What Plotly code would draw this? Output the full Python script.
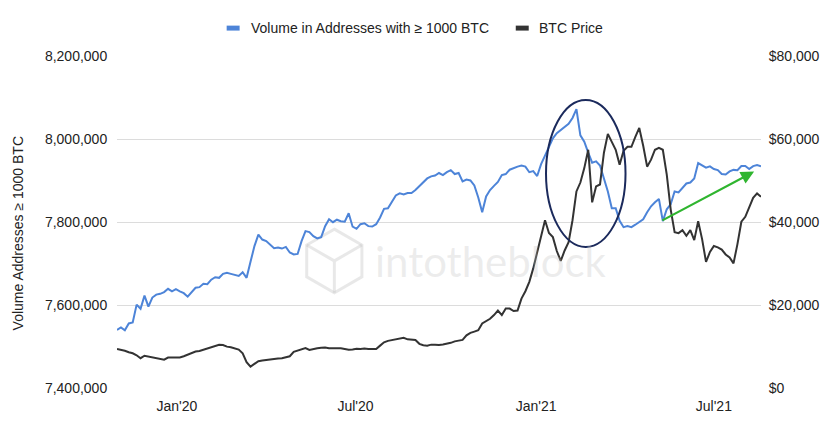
import pandas as pd
import plotly.graph_objects as go

# ---- data (one sample every 4 days) ----
start_date = "2019-11-01"
n_points = 165
dates = pd.date_range(start_date, periods=n_points, freq="4D")

volume_1000btc = [
    7540000, 7546000, 7539000, 7555500, 7558000, 7601000, 7591000, 7622500, 7596000, 7618000,
    7625000, 7627000, 7631000, 7639000, 7633000, 7638000, 7633000, 7628500, 7620000, 7632000,
    7641600, 7643000, 7651000, 7650000, 7661000, 7667000, 7665500, 7675000, 7677500, 7675000,
    7672700, 7670000, 7679000, 7665500, 7704000, 7742000, 7769600, 7757700, 7754000, 7745700,
    7737000, 7738500, 7736000, 7740000, 7726500, 7722000, 7723000, 7754000, 7778000, 7775600,
    7766000, 7760500, 7763600, 7790000, 7806700, 7799500, 7805500, 7802000, 7800700, 7821000,
    7788700, 7783500, 7794700, 7797000, 7790000, 7789000, 7794700, 7810800, 7831800, 7833000,
    7847400, 7864000, 7869000, 7866500, 7870000, 7870000, 7877000, 7887000, 7896000, 7905000,
    7910000, 7912000, 7918000, 7913000, 7920000, 7925000, 7915500, 7918000, 7897600, 7902400,
    7900000, 7888000, 7859000, 7823400, 7861700, 7877000, 7887000, 7896400, 7913000, 7915500,
    7926000, 7930000, 7933500, 7936000, 7933500, 7920000, 7922700, 7910800, 7939500, 7959800,
    7979000, 8001700, 8014000, 8022000, 8029000, 8036400, 8050700, 8072000, 8008800, 7993300,
    7967000, 7943000, 7946000, 7936000, 7904800, 7873700, 7833000, 7833000, 7803000, 7787600,
    7790000, 7787600, 7793500, 7800700, 7806700, 7823400, 7837800, 7847400, 7855700, 7802000,
    7830600, 7842600, 7873700, 7871300, 7881300, 7892800, 7895200, 7905000, 7941900, 7937000,
    7931000, 7934000, 7927500, 7925000, 7915500, 7914300, 7922000, 7925600, 7925000, 7934700,
    7935000, 7927500, 7934700, 7937000, 7934200,
]

btc_price = [
    9400, 9210, 8970, 8610, 8370, 7890, 7180, 7770, 7580, 7420,
    7300, 7130, 6820, 7340, 7300, 7420, 7340, 7650, 8090, 8490,
    8780, 8920, 9210, 9570, 9810, 10170, 10410, 10360, 9970, 9810,
    9620, 9260, 8370, 6220, 5140, 5860, 6460, 6630, 6770, 6940,
    7060, 7100, 7180, 7420, 7650, 8730, 9090, 9450, 9620, 9160,
    9400, 9570, 9690, 9740, 9570, 9570, 9500, 9570, 9380, 9210,
    9280, 9450, 9400, 9500, 9400, 9450, 9400, 10210, 11000, 11360,
    11530, 11670, 11840, 12080, 11720, 11550, 11550, 10640, 10290, 10210,
    10450, 10450, 10360, 10480, 10640, 10880, 11240, 11430, 11600, 12680,
    13280, 13590, 13920, 15550, 16030, 16670, 17580, 18660, 17580, 19140,
    19140, 18540, 18680, 21530, 23320, 25590, 28820, 32650, 37080, 40420,
    37360, 36360, 33010, 30620, 33130, 35160, 40420, 47360, 49510, 52980,
    57410, 44730, 48560, 49040, 56690, 61240, 59320, 57410, 53820, 57170,
    58130, 58130, 60520, 62670, 58360, 53340, 55020, 57410, 57890, 57410,
    51430, 43060, 37550, 37320, 38030, 36670, 38030, 35640, 40190, 35880,
    30380, 32770, 34210, 33890, 33370, 32170, 31450, 30020, 34680, 40070,
    41260, 43530, 45810, 46880, 46100,
]

series_names = ["Volume in Addresses with \u2265 1000 BTC", "BTC Price"]
x_tick_dates = ["2020-01-01", "2020-07-01", "2021-01-01", "2021-07-01"]
x_tick_labels = ["Jan'20", "Jul'20", "Jan'21", "Jul'21"]
left_ticks = [7400000, 7600000, 7800000, 8000000, 8200000]
right_ticks = [0, 20000, 40000, 60000, 80000]
right_tick_labels = ["$0", "$20,000", "$40,000", "$60,000", "$80,000"]

# highlighted regions (annotations)
ellipse_dates = ["2021-01-11", "2021-04-02"]
ellipse_values = [7740000, 8094000]
arrow_dates = ["2021-05-08", "2021-08-11"]
arrow_values = [7802000, 7921500]

BLUE = "#4d84d8"
DARK = "#333333"
FONT = "Liberation Sans, Arial, Helvetica, sans-serif"

fig = go.Figure()
fig.add_trace(go.Scatter(x=dates, y=volume_1000btc, mode="lines", name=series_names[0],
                         line=dict(color=BLUE, width=2), yaxis="y", showlegend=False))
fig.add_trace(go.Scatter(x=dates, y=btc_price, mode="lines", name=series_names[1],
                         line=dict(color=DARK, width=2), yaxis="y2", showlegend=False))

OFF = 8  # page body margin
W, H = 832 - OFF, 426 - OFF
pw, ph = 646, 334.4
L, T = 117 - OFF, 55.6 - OFF
R = W - L - pw
B = H - T - ph


def px(xs):
    return (xs - OFF - L) / pw


def py(ys):
    return (T + ph - (ys - OFF)) / ph


shapes = []
annotations = []

# custom legend
shapes.append(dict(type="rect", xref="paper", yref="paper", x0=px(227), x1=px(240),
                   y0=py(30), y1=py(25), fillcolor=BLUE, line=dict(width=0)))
annotations.append(dict(xref="paper", yref="paper", x=px(249), y=py(27.5), text=series_names[0],
                        showarrow=False, xanchor="left", yanchor="middle",
                        font=dict(size=14, color="#222", family=FONT)))
shapes.append(dict(type="rect", xref="paper", yref="paper", x0=px(517), x1=px(530),
                   y0=py(30), y1=py(25), fillcolor=DARK, line=dict(width=0)))
annotations.append(dict(xref="paper", yref="paper", x=px(538), y=py(27.5), text=series_names[1],
                        showarrow=False, xanchor="left", yanchor="middle",
                        font=dict(size=14, color="#222", family=FONT)))

# y axis title
annotations.append(dict(xref="paper", yref="paper", x=px(18), y=py(234), text="Volume Addresses \u2265 1000 BTC",
                        textangle=-90, showarrow=False, xanchor="center", yanchor="middle",
                        font=dict(size=14, color="#222", family=FONT)))

# watermark
annotations.append(dict(xref="paper", yref="paper", x=px(492), y=py(262), text="intotheblock",
                        showarrow=False, xanchor="center", yanchor="middle",
                        font=dict(size=42, color="rgba(190,190,190,0.28)", family="Lato, sans-serif")))
hx = [335, 362.7, 362.7, 335, 307.3, 307.3]
hy = [230, 246, 278, 294, 278, 246]
path = "M " + " L ".join(f"{px(a):.4f},{py(b):.4f}" for a, b in zip(hx, hy)) + " Z"
shapes.append(dict(type="path", xref="paper", yref="paper", path=path,
                   line=dict(color="rgba(190,190,190,0.35)", width=3), layer="below"))
inner = (f"M {px(307.3):.4f},{py(246):.4f} L {px(335):.4f},{py(262):.4f} L {px(362.7):.4f},{py(246):.4f} "
         f"M {px(335):.4f},{py(262):.4f} L {px(335):.4f},{py(294):.4f}")
shapes.append(dict(type="path", xref="paper", yref="paper", path=inner,
                   line=dict(color="rgba(190,190,190,0.35)", width=3), layer="below"))

# ellipse highlight
shapes.append(dict(type="circle", xref="x", yref="y", x0=ellipse_dates[0], x1=ellipse_dates[1],
                   y0=ellipse_values[0], y1=ellipse_values[1],
                   line=dict(color="#1b2a5c", width=2)))

# green arrow
annotations.append(dict(xref="x", yref="y", axref="x", ayref="y",
                        x=arrow_dates[1], y=arrow_values[1], ax=arrow_dates[0], ay=arrow_values[0],
                        showarrow=True, arrowhead=2, arrowsize=1.2, arrowwidth=2.2,
                        arrowcolor="#2fb52f", text=""))

fig.update_layout(
    width=W, height=H,
    margin=dict(l=L, r=R, t=T, b=B, pad=0),
    paper_bgcolor="white", plot_bgcolor="white",
    font=dict(family=FONT, size=14, color="#222"),
    showlegend=False,
    xaxis=dict(range=["2019-11-01", "2021-08-18"], tickvals=x_tick_dates, ticktext=x_tick_labels,
               showgrid=False, zeroline=False, showline=False, ticks="outside", ticklen=5,
               tickcolor="rgba(0,0,0,0)", tickfont=dict(size=14)),
    yaxis=dict(range=[7400000, 8200000], tickvals=left_ticks, tickformat=",d",
               showgrid=True, gridcolor="#dcdcdc", gridwidth=1, zeroline=False, showline=False,
               ticks="outside", ticklen=6, tickcolor="rgba(0,0,0,0)", tickfont=dict(size=14)),
    yaxis2=dict(range=[0, 80000], tickvals=right_ticks, ticktext=right_tick_labels,
                overlaying="y", side="right", showgrid=False, zeroline=False, showline=False,
                ticks="outside", ticklen=4, tickcolor="rgba(0,0,0,0)", tickfont=dict(size=14)),
    shapes=shapes,
    annotations=annotations,
)

fig.write_html("out.html")
